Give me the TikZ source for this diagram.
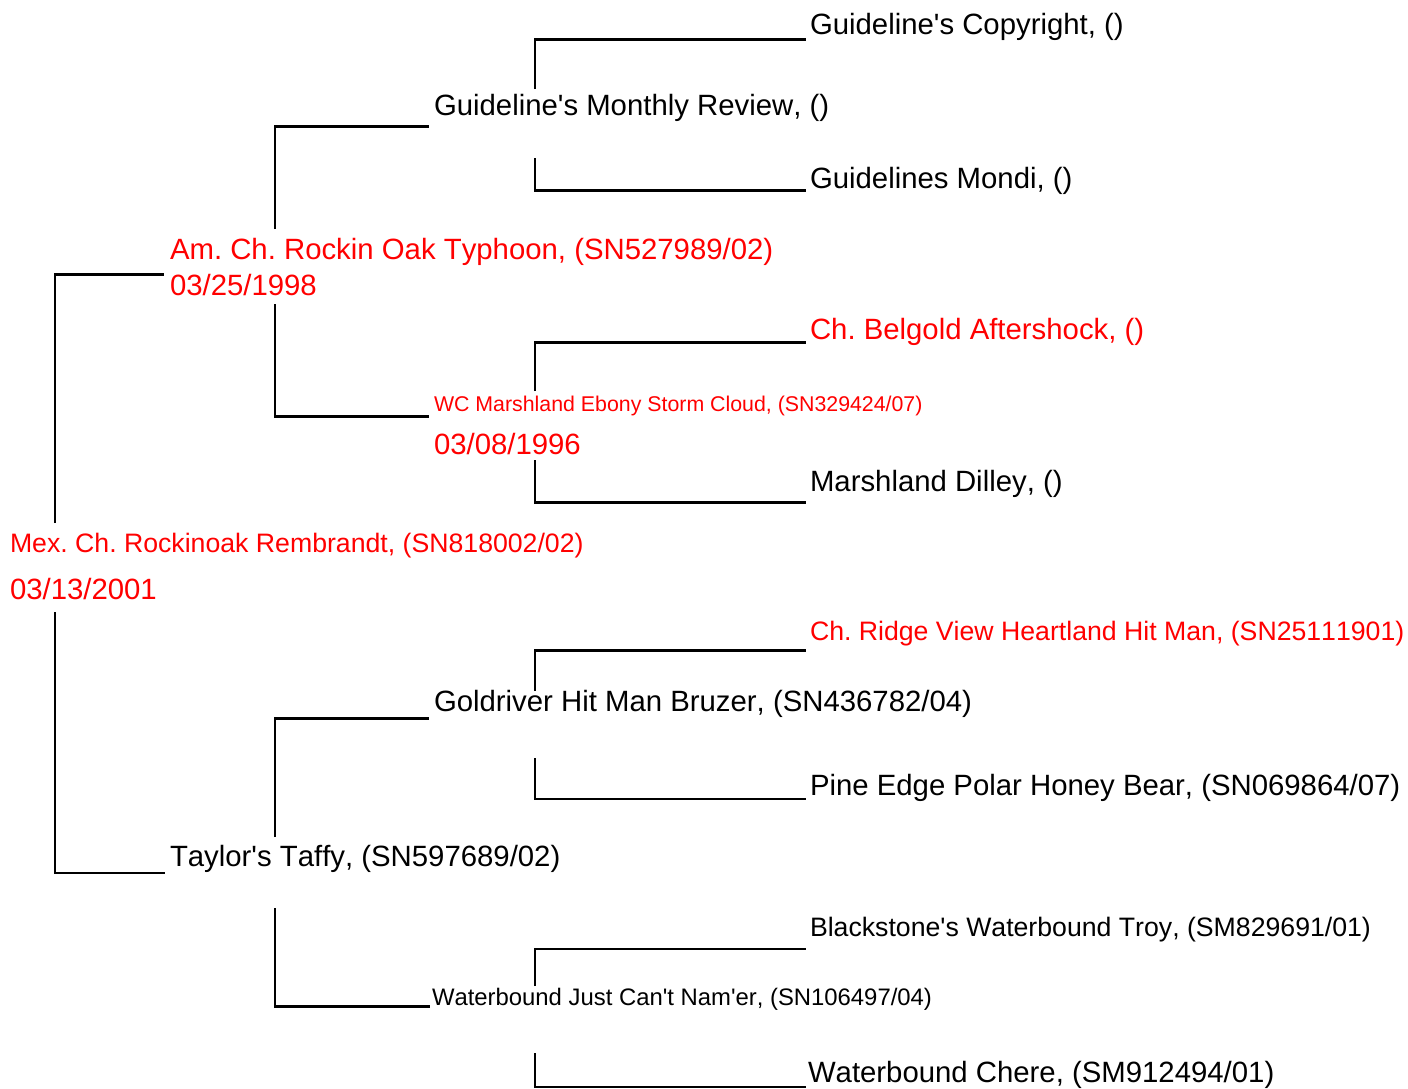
\documentclass[tikz,border=0pt]{standalone}
\usepackage{fontspec}
\setmainfont{Liberation Sans}[Ligatures=TeXOff,Kerning=Off]
\begin{document}
\frenchspacing
\begin{tikzpicture}[x=0.75pt,y=-0.75pt]
\tikzset{
  lbl/.style={anchor=base west, inner sep=0pt, outer sep=0pt, text=black},
  lbig/.style={lbl, font=\fontsize{22}{26}\selectfont\frenchspacing},
  lmid/.style={lbl, font=\fontsize{20}{24}\selectfont\frenchspacing},
  lsm/.style={lbl, font=\fontsize{17.9}{21}\selectfont\frenchspacing},
  lxs/.style={lbl, font=\fontsize{16}{19}\selectfont\frenchspacing},
  redtext/.style={text=red},
  conn/.style={draw=black, line width=1.8pt, line cap=butt, line join=miter},
}
\fill[white] (0,0) rectangle (1408,1088);
\useasboundingbox (0,0) rectangle (1408,1088);

% ---- text nodes ----
\node[lmid,redtext] (root) at (10,552.5) {Mex. Ch. Rockinoak Rembrandt, (SN818002/02)};
\node[lbig,redtext] (rootdate) at (10,599) {03/13/2001};
\node[lbig,redtext] (sire) at (170,259) {Am. Ch. Rockin Oak Typhoon, (SN527989/02)};
\node[lbig,redtext] (siredate) at (170,295) {03/25/1998};
\node[lbig] (gmr) at (434,115) {Guideline's Monthly Review, ()};
\node[lbig] (gc) at (810,35) {Guideline's Copyright, ()};
\node[lbig] (gm) at (810,188) {Guidelines Mondi, ()};
\node[lxs,redtext] (wc) at (434,411.5) {WC Marshland Ebony Storm Cloud, (SN329424/07)};
\node[lbig,redtext] (wcdate) at (434,454.5) {03/08/1996};
\node[lbig,redtext] (belgold) at (810,339) {Ch. Belgold Aftershock, ()};
\node[lbig] (dilley) at (810,491.5) {Marshland Dilley, ()};
\node[lbig] (taylor) at (170,866.5) {Taylor's Taffy, (SN597689/02)};
\node[lbig] (goldriver) at (434,711.5) {Goldriver Hit Man Bruzer, (SN436782/04)};
\node[lmid,redtext] (ridge) at (810,640) {Ch. Ridge View Heartland Hit Man, (SN25111901)};
\node[lbig] (pine) at (810,795) {Pine Edge Polar Honey Bear, (SN069864/07)};
\node[lsm] (wjust) at (432,1005) {Waterbound Just Can't Nam'er, (SN106497/04)};
\node[lmid] (black) at (810,936) {Blackstone's Waterbound Troy, (SM829691/01)};
\node[lbig] (chere) at (808,1082.5) {Waterbound Chere, (SM912494/01)};

% ---- connector end points ----
\coordinate (rootA) at (55,523);   \coordinate (sireE) at (164,274.5);
\coordinate (rootB) at (55,612);   \coordinate (damE) at (165,873);
\coordinate (sireA) at (275,229);  \coordinate (gmrE) at (429,126.5);
\coordinate (sireB) at (275,304);  \coordinate (wcE) at (429,416.5);
\coordinate (gmrA) at (535,89);    \coordinate (gcE) at (806,39.5);
\coordinate (gmrB) at (535,158);   \coordinate (gmE) at (806,190.5);
\coordinate (wcA) at (535,391);    \coordinate (belE) at (806,342.5);
\coordinate (wcB) at (535,460);    \coordinate (dilE) at (806,502.5);
\coordinate (tayA) at (275,837);   \coordinate (goldE) at (429,718.5);
\coordinate (tayB) at (275,908);   \coordinate (wjE) at (430,1006.5);
\coordinate (goldA) at (535,691);  \coordinate (ridE) at (806,650.5);
\coordinate (goldB) at (535,758);  \coordinate (pinE) at (806,799);
\coordinate (wjA) at (535,986);    \coordinate (blkE) at (806,949);
\coordinate (wjB) at (535,1053);   \coordinate (chE) at (806,1087);

% ---- connectors ----
\draw[conn] (rootA) |- (sireE);
\draw[conn] (rootB) |- (damE);
\draw[conn] (sireA) |- (gmrE);
\draw[conn] (sireB) |- (wcE);
\draw[conn] (gmrA) |- (gcE);
\draw[conn] (gmrB) |- (gmE);
\draw[conn] (wcA) |- (belE);
\draw[conn] (wcB) |- (dilE);
\draw[conn] (tayA) |- (goldE);
\draw[conn] (tayB) |- (wjE);
\draw[conn] (goldA) |- (ridE);
\draw[conn] (goldB) |- (pinE);
\draw[conn] (wjA) |- (blkE);
\draw[conn] (wjB) |- (chE);
\end{tikzpicture}
\end{document}
